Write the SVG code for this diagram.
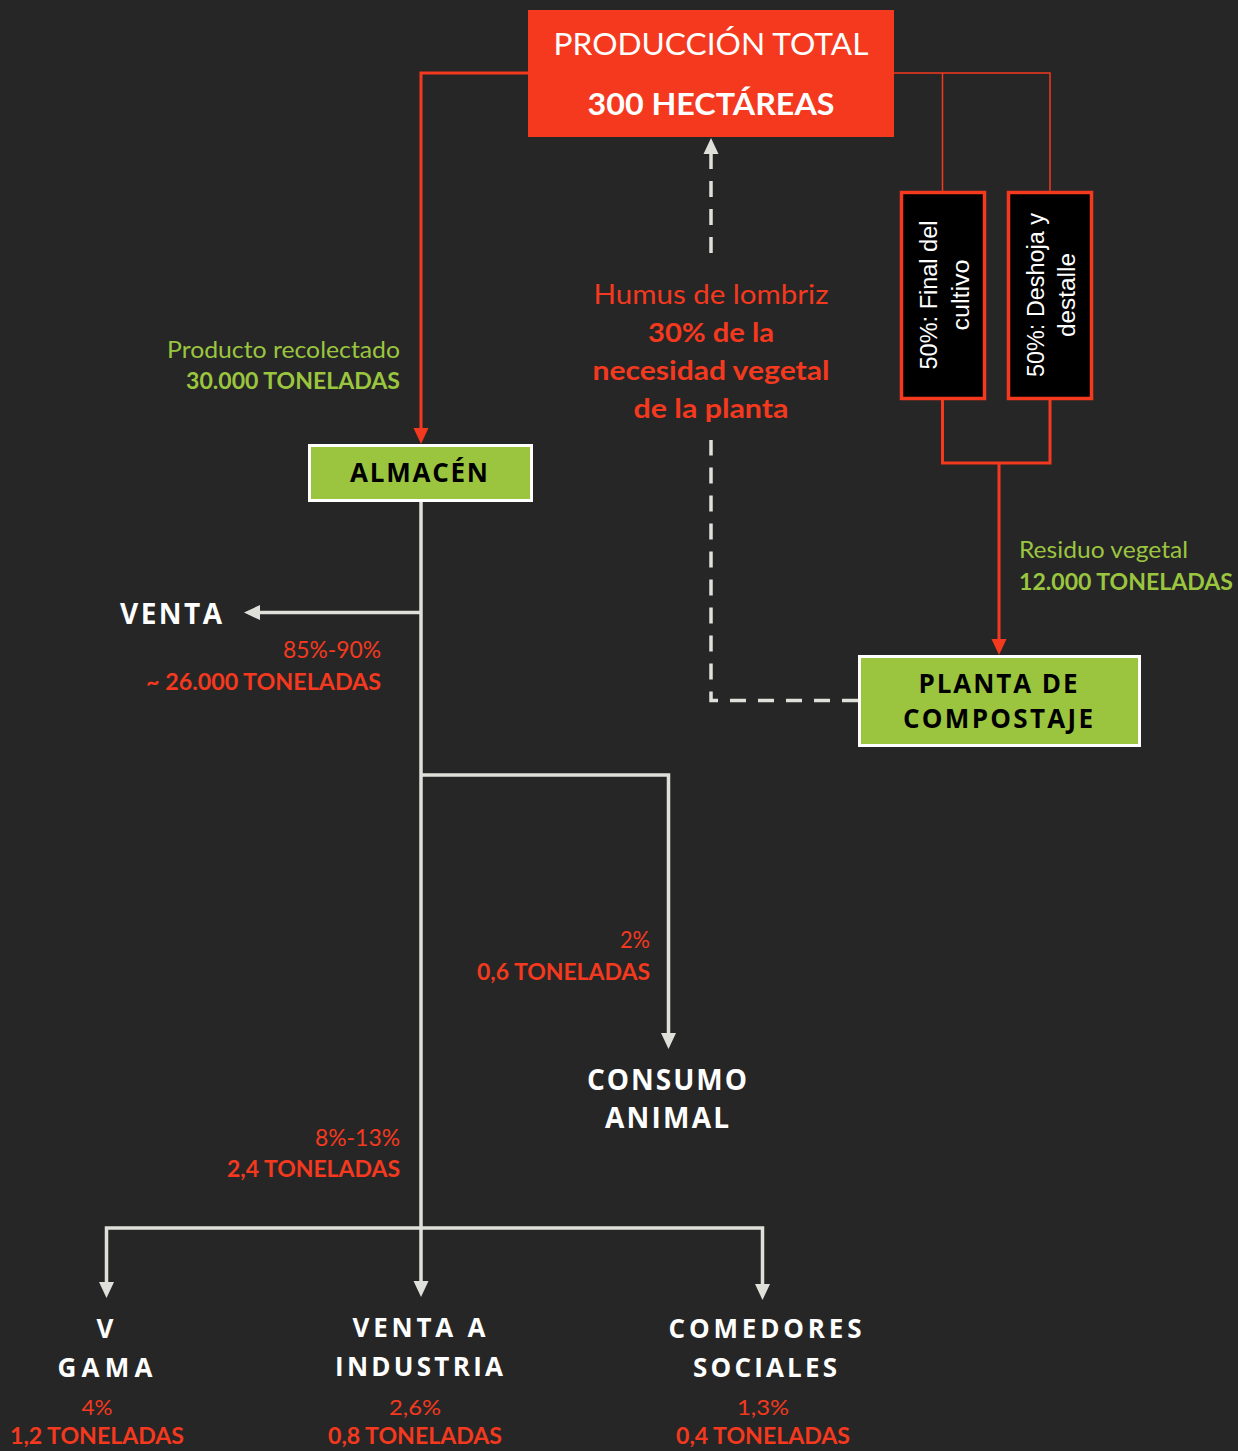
<svg xmlns="http://www.w3.org/2000/svg" width="1238" height="1451" viewBox="0 0 1238 1451">
<defs>
<style>
.bg{fill:#262626}
.lbl{font-family:Lato,"Open Sans",sans-serif}
.b{font-weight:bold}
.red{fill:#F4391F}
.green{fill:#9BC53F}
.white{fill:#FFFFFF}
.ttl{font-family:"Open Sans","DejaVu Sans",sans-serif;font-weight:bold}
.rot{font-family:"Liberation Sans",Arial,sans-serif;font-size:23px;fill:#FFFFFF}
.ln-red{fill:none;stroke:#F4391F;stroke-width:3}
.ln-thin{fill:none;stroke:#F4391F;stroke-width:1.5}
.ln-gray{fill:none;stroke:#E0E0DB;stroke-width:3.5}
.ln-dash{fill:none;stroke:#E0E0DB;stroke-width:3.5;stroke-dasharray:16 12}
.gbox{fill:#9BC53F;stroke:#FFFFFF;stroke-width:3}
.kbox{fill:#000000;stroke:#F4391F;stroke-width:3.5}
</style>
<marker id="arR" markerUnits="userSpaceOnUse" markerWidth="16" markerHeight="15" refX="6" refY="7.5" orient="auto" overflow="visible"><path d="M0,0 L16,7.5 L0,15 Z" fill="#F4391F"/></marker>
<marker id="arG" markerUnits="userSpaceOnUse" markerWidth="16" markerHeight="15" refX="6" refY="7.5" orient="auto" overflow="visible"><path d="M0,0 L16,7.5 L0,15 Z" fill="#E0E0DB"/></marker>
<marker id="arGs" markerUnits="userSpaceOnUse" markerWidth="16" markerHeight="15" refX="6" refY="7.5" orient="auto-start-reverse" overflow="visible"><path d="M0,0 L16,7.5 L0,15 Z" fill="#E0E0DB"/></marker>
</defs>
<rect class="bg" x="0" y="0" width="1238" height="1451"/>

<g id="connectors">
<path class="ln-red" d="M528,73 H421 V434" marker-end="url(#arR)"/>
<path class="ln-thin" d="M893,73 H1050 V192 M942.5,73 V192"/>
<path class="ln-red" d="M942.5,399 V463 H1050 V400"/>
<path class="ln-red" d="M999,463 V645" marker-end="url(#arR)"/>
<path class="ln-dash" d="M858,700.5 H711 V440"/>
<path class="ln-dash" d="M711,148 V262" stroke-dashoffset="-5" marker-start="url(#arGs)"/>
<path class="ln-gray" d="M421,501 V1287" marker-end="url(#arG)"/>
<path class="ln-gray" d="M421,612.5 H254" marker-end="url(#arG)"/>
<path class="ln-gray" d="M421,775 H668.5 V1039" marker-end="url(#arG)"/>
<path class="ln-gray" d="M421,1228 H106.5 V1288" marker-end="url(#arG)"/>
<path class="ln-gray" d="M421,1228 H762.5 V1290" marker-end="url(#arG)"/>
</g>

<g id="edge-labels" class="lbl">
<text class="green" x="400" y="358" font-size="23" text-anchor="end" textLength="233" lengthAdjust="spacingAndGlyphs">Producto recolectado</text>
<text class="green b" x="400" y="389" font-size="23" text-anchor="end" textLength="214" lengthAdjust="spacingAndGlyphs">30.000 TONELADAS</text>
<text class="red" x="711" y="304" font-size="27" text-anchor="middle" textLength="235" lengthAdjust="spacingAndGlyphs">Humus de lombriz</text>
<text class="red b" x="711" y="342" font-size="27" text-anchor="middle" textLength="126" lengthAdjust="spacingAndGlyphs">30% de la</text>
<text class="red b" x="711" y="380" font-size="27" text-anchor="middle" textLength="237" lengthAdjust="spacingAndGlyphs">necesidad vegetal</text>
<text class="red b" x="711" y="418" font-size="27" text-anchor="middle" textLength="155" lengthAdjust="spacingAndGlyphs">de la planta</text>
<text class="green" x="1019" y="558" font-size="23" textLength="169" lengthAdjust="spacingAndGlyphs">Residuo vegetal</text>
<text class="green b" x="1019" y="590" font-size="23" textLength="214" lengthAdjust="spacingAndGlyphs">12.000 TONELADAS</text>
<text class="red" x="381" y="658" font-size="23" text-anchor="end" textLength="98" lengthAdjust="spacingAndGlyphs">85%-90%</text>
<text class="red b" x="381" y="690" font-size="23" text-anchor="end" textLength="235" lengthAdjust="spacingAndGlyphs">~ 26.000 TONELADAS</text>
<text class="red" x="650" y="948" font-size="23" text-anchor="end" textLength="30" lengthAdjust="spacingAndGlyphs">2%</text>
<text class="red b" x="650" y="980" font-size="23" text-anchor="end" textLength="173" lengthAdjust="spacingAndGlyphs">0,6 TONELADAS</text>
<text class="red" x="400" y="1146" font-size="23" text-anchor="end" textLength="85" lengthAdjust="spacingAndGlyphs">8%-13%</text>
<text class="red b" x="400" y="1177" font-size="23" text-anchor="end" textLength="173" lengthAdjust="spacingAndGlyphs">2,4 TONELADAS</text>
</g>

<g id="node-produccion">
<rect x="528" y="10" width="366" height="127" fill="#F4391F"/>
<text class="lbl white" x="711" y="55" font-size="31" text-anchor="middle" textLength="315" lengthAdjust="spacingAndGlyphs">PRODUCCIÓN TOTAL</text>
<text class="lbl white b" x="711" y="115" font-size="31" text-anchor="middle" textLength="247" lengthAdjust="spacingAndGlyphs">300 HECTÁREAS</text>
</g>

<g id="node-final-cultivo">
<rect class="kbox" x="901.5" y="192.5" width="83" height="206"/>
<g transform="translate(943,295) rotate(-90)">
<text class="rot" x="0" y="-6" text-anchor="middle" textLength="149" lengthAdjust="spacingAndGlyphs">50%: Final del</text>
<text class="rot" x="0" y="26" text-anchor="middle" textLength="71" lengthAdjust="spacingAndGlyphs">cultivo</text>
</g>
</g>

<g id="node-deshoja">
<rect class="kbox" x="1008.5" y="192.5" width="83" height="206"/>
<g transform="translate(1050,295) rotate(-90)">
<text class="rot" x="0" y="-6" text-anchor="middle" textLength="164" lengthAdjust="spacingAndGlyphs">50%: Deshoja y</text>
<text class="rot" x="0" y="25" text-anchor="middle" textLength="84" lengthAdjust="spacingAndGlyphs">destalle</text>
</g>
</g>

<g id="node-almacen">
<rect class="gbox" x="309.5" y="445.5" width="222" height="55"/>
<text class="ttl" x="419" y="482" font-size="26" fill="#000" text-anchor="middle" textLength="138" lengthAdjust="spacing">ALMACÉN</text>
</g>

<g id="node-planta">
<rect class="gbox" x="859.5" y="656.5" width="280" height="89"/>
<text class="ttl" x="998" y="693" font-size="26" fill="#000" text-anchor="middle" textLength="159" lengthAdjust="spacing">PLANTA DE</text>
<text class="ttl" x="998" y="728" font-size="26" fill="#000" text-anchor="middle" textLength="190" lengthAdjust="spacing">COMPOSTAJE</text>
</g>

<g id="node-venta">
<text class="ttl white" x="171" y="624" font-size="28" text-anchor="middle" textLength="102" lengthAdjust="spacing">VENTA</text>
</g>

<g id="node-consumo">
<text class="ttl white" x="667" y="1090" font-size="28" text-anchor="middle" textLength="160" lengthAdjust="spacing">CONSUMO</text>
<text class="ttl white" x="667" y="1128" font-size="28" text-anchor="middle" textLength="124" lengthAdjust="spacing">ANIMAL</text>
</g>

<g id="node-vgama">
<text class="ttl white" x="105" y="1338" font-size="26" text-anchor="middle">V</text>
<text class="ttl white" x="105" y="1377" font-size="26" text-anchor="middle" textLength="95" lengthAdjust="spacing">GAMA</text>
<text class="lbl red" x="97" y="1415" font-size="22" text-anchor="middle" textLength="31" lengthAdjust="spacingAndGlyphs">4%</text>
<text class="lbl red b" x="97" y="1444" font-size="23" text-anchor="middle" textLength="174" lengthAdjust="spacingAndGlyphs">1,2 TONELADAS</text>
</g>

<g id="node-industria">
<text class="ttl white" x="419" y="1337" font-size="26" text-anchor="middle" textLength="133" lengthAdjust="spacing">VENTA A</text>
<text class="ttl white" x="419" y="1376" font-size="26" text-anchor="middle" textLength="168" lengthAdjust="spacing">INDUSTRIA</text>
<text class="lbl red" x="415" y="1415" font-size="22" text-anchor="middle" textLength="52" lengthAdjust="spacingAndGlyphs">2,6%</text>
<text class="lbl red b" x="415" y="1444" font-size="23" text-anchor="middle" textLength="174" lengthAdjust="spacingAndGlyphs">0,8 TONELADAS</text>
</g>

<g id="node-comedores">
<text class="ttl white" x="765" y="1338" font-size="26" text-anchor="middle" textLength="193" lengthAdjust="spacing">COMEDORES</text>
<text class="ttl white" x="765" y="1377" font-size="26" text-anchor="middle" textLength="144" lengthAdjust="spacing">SOCIALES</text>
<text class="lbl red" x="763" y="1415" font-size="22" text-anchor="middle" textLength="52" lengthAdjust="spacingAndGlyphs">1,3%</text>
<text class="lbl red b" x="763" y="1444" font-size="23" text-anchor="middle" textLength="174" lengthAdjust="spacingAndGlyphs">0,4 TONELADAS</text>
</g>
</svg>
